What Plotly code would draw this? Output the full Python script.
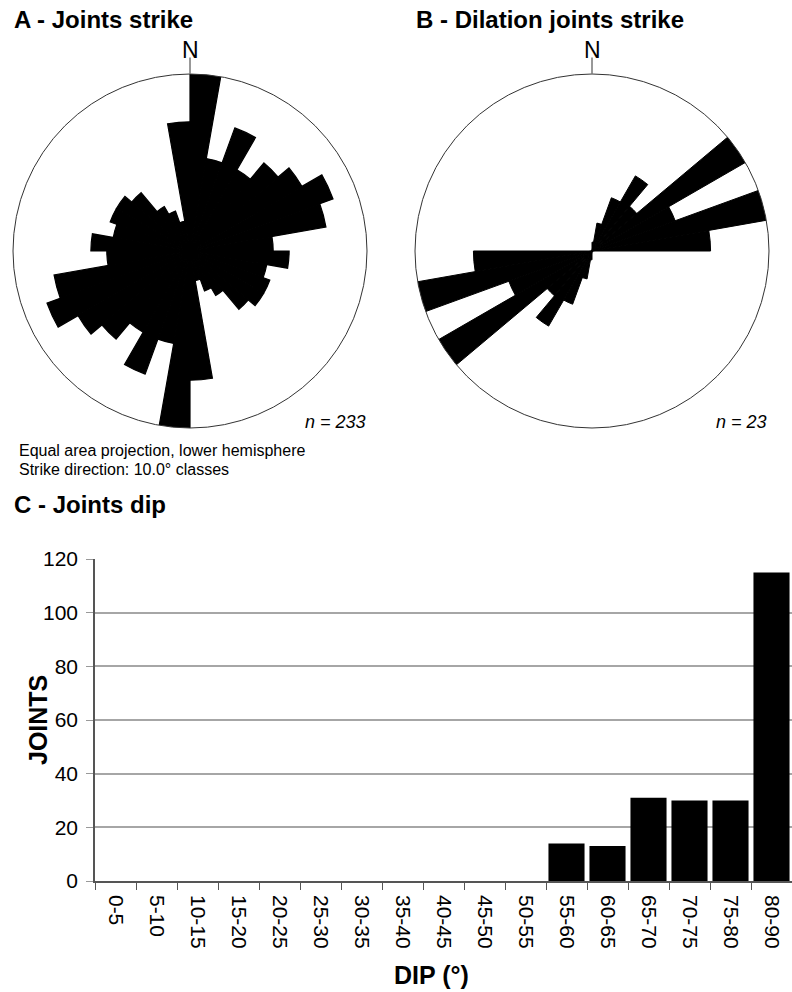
import plotly.graph_objects as go

# ---------------- data ----------------
# Rose diagrams: 10° strike classes (0-10 ... 170-180), bar length in % of outer circle.
strike_classes = [f"{a}-{a+10}" for a in range(0, 180, 10)]
rose_a_len = [100, 53, 74, 53, 65, 73, 86, 78, 47, 56, 44, 48, 48, 43, 29, 24, 17, 73]
rose_b_len = [5, 16, 32, 49, 33, 100, 50, 100, 67, 0, 0, 0, 0, 0, 0, 0, 0, 0]
n_a = 233
n_b = 23

# Dip histogram
dip_classes = ["0-5", "5-10", "10-15", "15-20", "20-25", "25-30", "30-35", "35-40",
               "40-45", "45-50", "50-55", "55-60", "60-65", "65-70", "70-75", "75-80", "80-90"]
dip_counts = [0, 0, 0, 0, 0, 0, 0, 0, 0, 0, 0, 14, 13, 31, 30, 30, 115]
y_ticks = [0, 20, 40, 60, 80, 100, 120]

FONT = "Liberation Sans, Arial, sans-serif"
W, H = 792, 992


def px_x(x):
    return x / W


def px_y(y):
    return 1 - y / H


# bidirectional strike: each class plotted in both directions
theta_centres = [a + 5 for a in range(0, 360, 10)]

fig = go.Figure()

fig.add_trace(go.Barpolar(
    r=rose_a_len + rose_a_len, theta=theta_centres, width=[10] * 36,
    marker=dict(color="black", line=dict(width=1.2, color="black")), subplot="polar",
    showlegend=False, hoverinfo="skip"))
fig.add_trace(go.Barpolar(
    r=rose_b_len + rose_b_len, theta=theta_centres, width=[10] * 36,
    marker=dict(color="black", line=dict(width=1.0, color="black")), subplot="polar2",
    showlegend=False, hoverinfo="skip"))

fig.add_trace(go.Bar(
    x=dip_classes, y=dip_counts, marker=dict(color="black", line=dict(width=0)),
    xaxis="x", yaxis="y", showlegend=False))

polar_common = dict(
    bgcolor="white",
    radialaxis=dict(visible=False, range=[0, 100]),
    angularaxis=dict(
        rotation=90, direction="clockwise", showgrid=False,
        showline=True, linecolor="#333333", linewidth=1,
        tickmode="array", tickvals=[0], showticklabels=False,
        ticks="outside", ticklen=16, tickcolor="#333333", tickwidth=1),
)

fig.update_layout(
    width=W, height=H,
    margin=dict(l=0, r=0, t=0, b=0, autoexpand=False),
    paper_bgcolor="white", plot_bgcolor="white",
    font=dict(family=FONT, color="black"),
    polar=dict(domain=dict(x=[px_x(13), px_x(367)], y=[px_y(428), px_y(74)]), **polar_common),
    polar2=dict(domain=dict(x=[px_x(415), px_x(769)], y=[px_y(428), px_y(74)]), **polar_common),
    xaxis=dict(domain=[px_x(95), 1.0], type="category", tickson="boundaries",
               ticks="outside", ticklen=7, tickcolor="#555555",
               showline=True, linecolor="#555555", linewidth=1.5,
               tickangle=90, tickfont=dict(size=21, family=FONT, color="black"),
               ticklabelstandoff=8,
               showgrid=False, automargin=False),
    yaxis=dict(domain=[px_y(881), px_y(559)], range=[0, 120],
               tickmode="array", tickvals=y_ticks,
               ticks="outside", ticklen=7, tickcolor="#999999",
               showline=True, linecolor="#555555", linewidth=1.5,
               showgrid=True, gridcolor="#a6a6a6", gridwidth=1.5, zeroline=False,
               tickfont=dict(size=21, family=FONT, color="black"),
               ticklabelstandoff=4, automargin=False),
    bargap=0.12,
)

ann = [
    dict(text="<b>A - Joints strike</b>", x=px_x(12), y=px_y(20), xanchor="left", yanchor="middle",
         font=dict(size=24)),
    dict(text="<b>B - Dilation joints strike</b>", x=px_x(414), y=px_y(20), xanchor="left", yanchor="middle",
         font=dict(size=24)),
    dict(text="N", x=px_x(190), y=px_y(50), xanchor="center", yanchor="middle", font=dict(size=23)),
    dict(text="N", x=px_x(592), y=px_y(50), xanchor="center", yanchor="middle", font=dict(size=23)),
    dict(text=f"<i>n = {n_a}</i>", x=px_x(368), y=px_y(422), xanchor="right", yanchor="middle",
         font=dict(size=18)),
    dict(text=f"<i>n = {n_b}</i>", x=px_x(769), y=px_y(422), xanchor="right", yanchor="middle",
         font=dict(size=18)),
    dict(text="Equal area projection, lower hemisphere",
         x=px_x(17), y=px_y(451), xanchor="left", yanchor="middle", font=dict(size=16)),
    dict(text="Strike direction: 10.0° classes",
         x=px_x(17), y=px_y(469), xanchor="left", yanchor="middle", font=dict(size=16)),
    dict(text="<b>C - Joints dip</b>", x=px_x(12), y=px_y(504), xanchor="left", yanchor="middle",
         font=dict(size=24)),
    dict(text="<b>JOINTS</b>", x=px_x(38), y=px_y(720), xanchor="center", yanchor="middle",
         textangle=-90, font=dict(size=25)),
    dict(text="<b>DIP (°)</b>", x=px_x(431), y=px_y(975), xanchor="center", yanchor="middle",
         font=dict(size=25)),
]
for a in ann:
    a.update(xref="paper", yref="paper", showarrow=False)
fig.update_layout(annotations=ann)

fig.write_html("out.html", config={"displayModeBar": False},
               post_script="document.body.style.margin='0';")
